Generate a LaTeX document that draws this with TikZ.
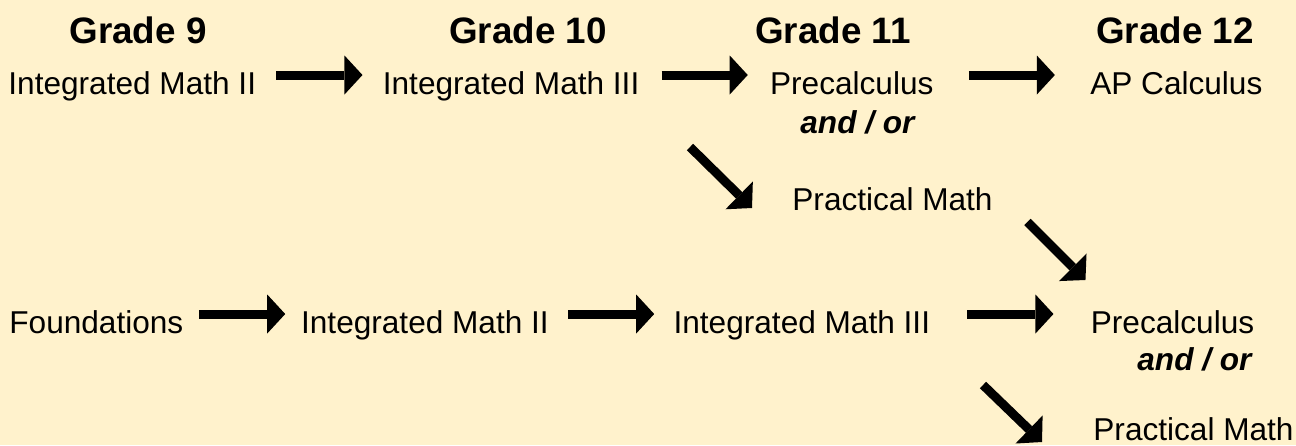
\documentclass[tikz,border=0pt]{standalone}
\usepackage{fontspec}
\setmainfont{Liberation Sans}
\usetikzlibrary{positioning,arrows.meta,calc}
\definecolor{paleGold}{HTML}{FFF2CC}
\tikzset{
  course/.style={inner sep=0pt,text height=19pt,text depth=0pt,font=\fontsize{15.8}{19}\selectfont},
  either/.style={course,font=\bfseries\itshape\fontsize{15.8}{19}\selectfont},
  grade/.style={inner sep=0pt,anchor=base,font=\bfseries\fontsize{18.4}{22}\selectfont},
  arr/.style={-{Triangle[length=9pt,width=19.5pt,line width=0pt]},line width=4.5pt},
}

\begin{document}
\begin{tikzpicture}[x=0.5pt,y=-0.5pt]
\fill[paleGold] (0,0) rectangle (1296,445);
\useasboundingbox (0,0) rectangle (1296,445);
% grade headings
\node[grade] (g9) at (138,43) {Grade 9};
\node[grade] (g10) at (528,43) {Grade 10};
\node[grade] (g11) at (833,43) {Grade 11};
\node[grade] (g12) at (1175,43) {Grade 12};
% upper track
\node[course,anchor=base west] (im2a) at (8,94) {Integrated Math II};
\node[course,right=63pt of im2a] (im3a) {Integrated Math III};
\node[course,right=65pt of im3a] (pc1) {Precalculus};
\node[course,right=78pt of pc1] (ap) {AP Calculus};
\node[either,anchor=base west] (or1) at (800,133) {and / or};
\node[course,anchor=base west] (pm1) at (792,210) {Practical Math};
% lower track
\node[course,anchor=base west] (fd) at (9,333) {Foundations};
\node[course,right=58.5pt of fd] (im2b) {Integrated Math II};
\node[course,right=62pt of im2b] (im3b) {Integrated Math III};
\node[course,right=80pt of im3b] (pc2) {Precalculus};
\node[either,anchor=base west] (or2) at (1137,370) {and / or};
\node[course,anchor=base west] (pm2) at (1093,440) {Practical Math};
% arrows
\draw[arr] ($(im2a.east)!.5!(im3a.west)+(-43,0)$) -- ($(im2a.east)!.5!(im3a.west)+(43,0)$);
\draw[arr] ($(im3a.east)!.5!(pc1.west)+(-43,0)$) -- ($(im3a.east)!.5!(pc1.west)+(43,0)$);
\draw[arr] ($(pc1.east)!.5!(ap.west)+(-43,0)$) -- ($(pc1.east)!.5!(ap.west)+(43,0)$);
\draw[arr] ($(fd.east)!.5!(im2b.west)+(-43,0)$) -- ($(fd.east)!.5!(im2b.west)+(43,0)$);
\draw[arr] ($(im2b.east)!.5!(im3b.west)+(-43,0)$) -- ($(im2b.east)!.5!(im3b.west)+(43,0)$);
\draw[arr] ($(im3b.east)!.5!(pc2.west)+(-43,0)$) -- ($(im3b.east)!.5!(pc2.west)+(43,0)$);
\draw[arr] ($(pm1.west)+(-102,-44)$) -- ($(pm1.west)+(-40,17)$);
\draw[arr] ($(pc2.west)+(-63,-92)$) -- ($(pc2.west)+(-5,-34)$);
\draw[arr] ($(pm2.west)+(-110,-36)$) -- ($(pm2.west)+(-51,21)$);
\end{tikzpicture}
\end{document}
